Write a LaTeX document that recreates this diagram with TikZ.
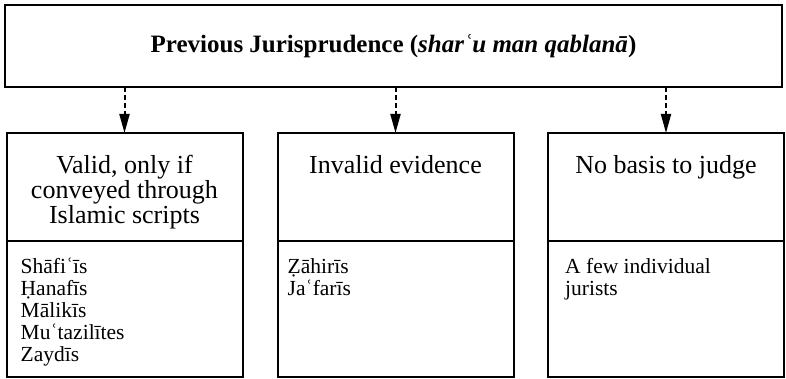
\documentclass[tikz,border=0pt]{standalone}
\usepackage{fontspec}
\setmainfont{Liberation Serif}
\usetikzlibrary{arrows.meta,positioning}

\begin{document}
\begin{tikzpicture}[
	x=1pt, y=1pt,
	frame/.style={draw=black, line width=2pt, inner sep=0pt, outer sep=0pt},
	headbox/.style={frame, minimum width=236pt, minimum height=108pt},
	listbox/.style={frame, minimum width=236pt, minimum height=136.5pt},
	headtext/.style={font=\fontsize{26}{25}\selectfont, align=center, inner sep=0pt},
	listtext/.style={font=\fontsize{21.5}{22}\selectfont, align=left, inner sep=0pt},
	arrow/.style={-{Triangle[length=19pt,width=10pt]}, line width=2pt, dash pattern=on 5pt off 3pt}
]
\useasboundingbox (0,0) rectangle (786,379);

% Top heading box.
\node[frame, minimum width=777pt, minimum height=82pt, font=\fontsize{25}{26}\selectfont\bfseries] (prev) at (393.5,333)
	{Previous Jurisprudence (\textit{sharʿu man qablanā})};

% Three positions, each with a header and a list of schools.
\node[headbox] (valid) at (124.5,192) {};
\node[headbox] (invalid) at (395.5,192) {};
\node[headbox] (nobasis) at (666,192) {};

\node[listbox, below=0pt of valid] (validlist) {};
\node[listbox, below=0pt of invalid] (invalidlist) {};
\node[listbox, below=0pt of nobasis] (nobasislist) {};

\node[headtext, below=22pt of valid.north] (validtext) {Valid, only if\\conveyed through\\Islamic scripts};
\node[headtext, below=22pt of invalid.north] (invalidtext) {Invalid evidence};
\node[headtext, below=22pt of nobasis.north] (nobasistext) {No basis to judge};

\node[listtext, below right=17pt and 14pt of validlist.north west] (validschools)
	{Shāfiʿīs\\Ḥanafīs\\Mālikīs\\Muʿtazilītes\\Zaydīs};
\node[listtext, below right=17pt and 10pt of invalidlist.north west] (invalidschools)
	{Ẓāhirīs\\Jaʿfarīs};
\node[listtext, below right=17pt and 17pt of nobasislist.north west] (nobasisschools)
	{A few individual\\jurists};

\draw[arrow] (prev.south -| valid.north) -- (valid.north);
\draw[arrow] (prev.south -| invalid.north) -- (invalid.north);
\draw[arrow] (prev.south -| nobasis.north) -- (nobasis.north);

\end{tikzpicture}
\end{document}
